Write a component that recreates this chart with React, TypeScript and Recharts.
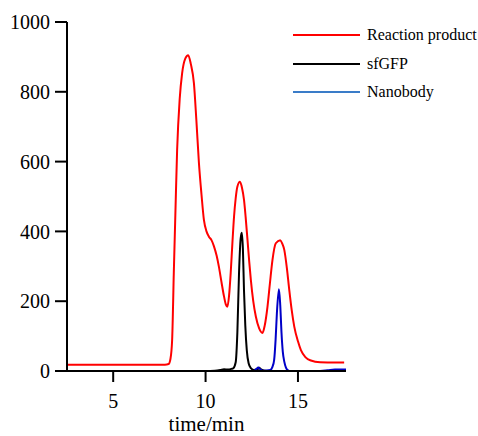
import React from 'react';
import { LineChart, Line, XAxis, YAxis, Legend } from 'recharts';

const reactionProduct = [
  { t: 2.5, v: 18 }, { t: 5.0, v: 18 }, { t: 7.8, v: 18 }, { t: 8.0, v: 20 },
  { t: 8.1, v: 35 }, { t: 8.19, v: 89 }, { t: 8.28, v: 280 }, { t: 8.37, v: 460 },
  { t: 8.46, v: 633 }, { t: 8.6, v: 780 }, { t: 8.73, v: 853 }, { t: 8.9, v: 895 },
  { t: 9.06, v: 905 }, { t: 9.2, v: 880 }, { t: 9.37, v: 824 }, { t: 9.5, v: 720 },
  { t: 9.64, v: 596 }, { t: 9.78, v: 505 }, { t: 9.91, v: 433 }, { t: 10.05, v: 400 },
  { t: 10.18, v: 385 }, { t: 10.32, v: 375 }, { t: 10.45, v: 358 }, { t: 10.6, v: 330 },
  { t: 10.72, v: 299 }, { t: 10.86, v: 255 }, { t: 11.0, v: 213 }, { t: 11.1, v: 190 },
  { t: 11.18, v: 184 }, { t: 11.27, v: 215 }, { t: 11.36, v: 281 }, { t: 11.45, v: 365 },
  { t: 11.54, v: 442 }, { t: 11.63, v: 495 }, { t: 11.72, v: 528 }, { t: 11.86, v: 542 },
  { t: 11.97, v: 525 }, { t: 12.08, v: 490 }, { t: 12.17, v: 440 }, { t: 12.27, v: 375 },
  { t: 12.36, v: 315 }, { t: 12.45, v: 261 }, { t: 12.58, v: 200 }, { t: 12.72, v: 156 },
  { t: 12.9, v: 122 }, { t: 13.08, v: 109 }, { t: 13.2, v: 130 }, { t: 13.35, v: 184 },
  { t: 13.48, v: 250 }, { t: 13.62, v: 318 }, { t: 13.8, v: 366 }, { t: 14.04, v: 375 },
  { t: 14.15, v: 365 }, { t: 14.26, v: 347 }, { t: 14.4, v: 295 }, { t: 14.53, v: 232 },
  { t: 14.66, v: 175 }, { t: 14.8, v: 127 }, { t: 15.0, v: 85 }, { t: 15.16, v: 60 },
  { t: 15.4, v: 40 }, { t: 15.7, v: 30 }, { t: 16.2, v: 25 }, { t: 17.0, v: 24 },
  { t: 17.5, v: 24 },
];

const sfGFP = [
  { t: 9.9, v: 0 }, { t: 10.5, v: 1 }, { t: 10.8, v: 3 }, { t: 11.0, v: 5 },
  { t: 11.2, v: 4 }, { t: 11.4, v: 6 }, { t: 11.5, v: 8 }, { t: 11.63, v: 25 },
  { t: 11.72, v: 110 }, { t: 11.81, v: 280 }, { t: 11.9, v: 380 }, { t: 11.96, v: 396 },
  { t: 12.02, v: 350 }, { t: 12.08, v: 230 }, { t: 12.15, v: 130 }, { t: 12.23, v: 60 },
  { t: 12.33, v: 22 }, { t: 12.45, v: 8 }, { t: 12.6, v: 3 }, { t: 12.8, v: 4 },
  { t: 12.9, v: 9 }, { t: 13.0, v: 5 }, { t: 13.2, v: 1 }, { t: 13.5, v: 0 },
  { t: 17.6, v: 0 },
];

const nanobody = [
  { t: 10.0, v: 0 }, { t: 12.6, v: 0 }, { t: 12.75, v: 6 }, { t: 12.85, v: 10 },
  { t: 12.95, v: 5 }, { t: 13.1, v: 1 }, { t: 13.5, v: 3 }, { t: 13.62, v: 12 },
  { t: 13.71, v: 31 }, { t: 13.79, v: 90 }, { t: 13.86, v: 166 }, { t: 13.97, v: 234 },
  { t: 14.04, v: 190 }, { t: 14.11, v: 109 }, { t: 14.18, v: 55 }, { t: 14.26, v: 27 },
  { t: 14.35, v: 10 }, { t: 14.44, v: 3 }, { t: 14.6, v: 0 }, { t: 16.0, v: 0 },
  { t: 16.6, v: 2 }, { t: 17.0, v: 4 }, { t: 17.6, v: 4 },
];

const xTicks = [5, 10, 15];
const yTicks = [0, 200, 400, 600, 800, 1000];

const seriesNames = ['Reaction product', 'sfGFP', 'Nanobody'];
const legendColors = ['#ff0000', '#000000', '#3a7cc8'];

const FONT = '"Liberation Serif", "Times New Roman", serif';

const LegendContent = () => (
  <div style={{ fontFamily: FONT, fontSize: 16, color: '#000' }}>
    {seriesNames.map((name, i) => (
      <div key={name} style={{ display: 'flex', alignItems: 'center', height: 28.5, fontFamily: FONT }}>
        <svg width={74} height={4} style={{ display: 'block' }}>
          <line x1={0} y1={2} x2={67} y2={2} stroke={legendColors[i]} strokeWidth={2} />
        </svg>
        <span style={{ whiteSpace: 'nowrap', fontFamily: FONT }}>{name}</span>
      </div>
    ))}
  </div>
);

export default function App() {
  return (
    <div style={{ position: 'absolute', left: 0, top: 0, background: '#fff', fontFamily: FONT }}>
      <LineChart width={478} height={436} margin={{ top: 22, right: 132, left: 0, bottom: 0 }} style={{ fontFamily: FONT }}>
        <XAxis
          type="number"
          dataKey="t"
          domain={[2.5, 17.6]}
          ticks={xTicks}
          allowDataOverflow
          stroke="#000"
          strokeWidth={2}
          tickSize={11}
          tickMargin={12}
          height={65}
          tick={{ fill: '#000', fontSize: 20, fontFamily: FONT }}
          label={{ value: 'time/min', position: 'insideBottom', offset: 5, fill: '#000', fontSize: 21, fontFamily: FONT }}
        />
        <YAxis
          type="number"
          domain={[0, 1000]}
          ticks={yTicks}
          allowDataOverflow
          width={67}
          stroke="#000"
          strokeWidth={2}
          tickSize={12}
          tickMargin={5}
          tick={{ fill: '#000', fontSize: 20, fontFamily: FONT }}
        />
        <Legend
          layout="vertical"
          align="center"
          verticalAlign="middle"
          content={<LegendContent />}
          wrapperStyle={{ position: 'absolute', left: 293, top: 21, width: 185, fontFamily: FONT }}
        />
        <Line data={reactionProduct} dataKey="v" name="Reaction product" type="monotone" stroke="#ff0000" strokeWidth={2} dot={false} isAnimationActive={false} />
        <Line data={sfGFP} dataKey="v" name="sfGFP" type="monotone" stroke="#000000" strokeWidth={2} dot={false} isAnimationActive={false} />
        <Line data={nanobody} dataKey="v" name="Nanobody" type="monotone" stroke="#0000c8" strokeWidth={2} dot={false} isAnimationActive={false} />
      </LineChart>
    </div>
  );
}
